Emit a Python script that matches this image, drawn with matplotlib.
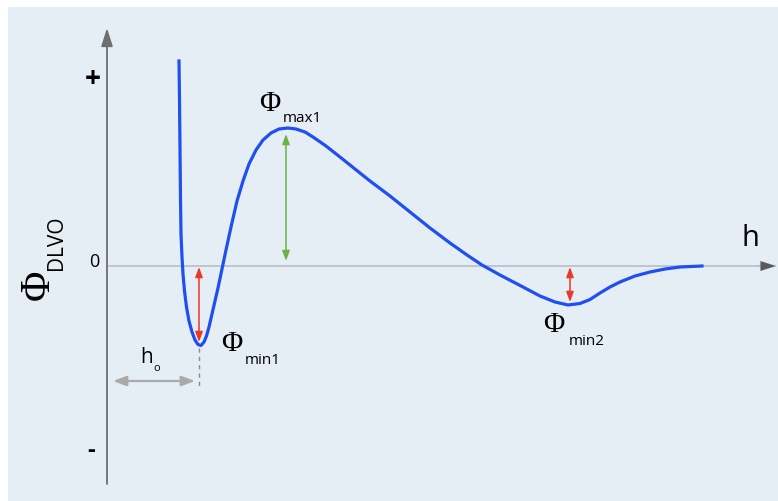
import matplotlib.pyplot as plt
from matplotlib.patches import Rectangle

# DLVO interaction potential vs separation h (arbitrary units)
h = [0.72, 0.725, 0.73, 0.735, 0.74, 0.75, 0.76, 0.775, 0.795, 0.82, 0.85, 0.88,
     0.91, 0.94, 0.97, 0.995, 1.02, 1.05, 1.08, 1.11, 1.15, 1.19, 1.24, 1.30,
     1.36, 1.42, 1.49, 1.56, 1.64, 1.72, 1.81, 1.89, 1.98, 2.06, 2.19, 2.33,
     2.48, 2.63, 2.83, 3.03, 3.23, 3.43, 3.60, 3.75, 3.93, 4.16, 4.33, 4.48,
     4.61, 4.73, 4.83, 4.93, 5.03, 5.13, 5.28, 5.43, 5.58, 5.73, 5.95]
phi = [2.05, 1.67, 1.17, 0.67, 0.32, 0.09, -0.08, -0.25, -0.41, -0.55, -0.66, -0.74,
       -0.785, -0.795, -0.76, -0.70, -0.61, -0.48, -0.35, -0.22, -0.03, 0.16, 0.39, 0.65,
       0.85, 1.02, 1.16, 1.26, 1.33, 1.37, 1.38, 1.37, 1.34, 1.29, 1.20, 1.09,
       0.97, 0.85, 0.70, 0.54, 0.38, 0.23, 0.11, 0.01, -0.09, -0.21, -0.30, -0.36,
       -0.39, -0.375, -0.335, -0.27, -0.21, -0.16, -0.10, -0.06, -0.03, -0.01, 0.00]

h_min1, phi_min1 = 0.92, -0.80
h_max1, phi_max1 = 1.79, 1.38
h_min2, phi_min2 = 4.63, -0.39

BLUE = '#1f4ff0'
RED = '#e8392a'
GREEN = '#6cb04a'
GRAY = '#a9a9a9'
AXIS = '#6e6e6e'

fig = plt.figure(figsize=(7.78, 5.02), dpi=100)
ax = fig.add_axes([0, 0, 1, 1])
ax.set_xlim(-1.07, 6.71)
ax.set_ylim(-2.35, 2.67)
ax.set_axis_off()

# background panel
ax.add_patch(Rectangle((8 / 778, 0), 770 / 778, 494 / 502, transform=ax.transAxes,
                       facecolor='#e6eef5', edgecolor='none', zorder=0))

# axes with arrow heads
ax.plot([0, 6.55], [0, 0], color='#b9bfc5', lw=1.2, zorder=1)
ax.annotate('', xy=(6.69, 0), xytext=(6.50, 0),
            arrowprops=dict(arrowstyle='-|>,head_length=1.1,head_width=0.35',
                            color='#5a5a5a', lw=0.1, shrinkA=0, shrinkB=0))
ax.annotate('', xy=(0, 2.38), xytext=(0, -2.18),
            arrowprops=dict(arrowstyle='-|>,head_length=1.1,head_width=0.35',
                            color=AXIS, lw=1.3, shrinkA=0, shrinkB=0))

# potential curve
ax.plot(h, phi, color=BLUE, lw=2.3, solid_joinstyle='round', zorder=3)

# well depths and barrier height
dbl = '<|-|>,head_length=0.6,head_width=0.22'
ax.annotate('', xy=(h_min1, phi_min1 + 0.04), xytext=(h_min1, -0.01),
            arrowprops=dict(arrowstyle=dbl, color=RED, lw=1.1, shrinkA=0, shrinkB=0))
ax.annotate('', xy=(h_max1, phi_max1 - 0.06), xytext=(h_max1, 0.05),
            arrowprops=dict(arrowstyle=dbl, color=GREEN, lw=1.1, shrinkA=0, shrinkB=0))
ax.annotate('', xy=(h_min2, phi_min2 + 0.03), xytext=(h_min2, -0.01),
            arrowprops=dict(arrowstyle=dbl, color=RED, lw=1.1, shrinkA=0, shrinkB=0))

# h0 marker
ax.plot([h_min1, h_min1], [phi_min1 - 0.02, -1.21], color='#8a8a8a', lw=1,
        ls=(0, (3, 3)), zorder=2)
ax.annotate('', xy=(0.06, -1.15), xytext=(h_min1 - 0.04, -1.15),
            arrowprops=dict(arrowstyle='<|-|>,head_length=0.8,head_width=0.3',
                            color=GRAY, lw=1.6, shrinkA=0, shrinkB=0))

serif = 'Liberation Serif'
sans = 'Open Sans'
ax.text(0.40, -0.91, 'h', fontsize=15, family=sans, ha='center', va='center')
ax.text(0.50, -1.02, 'o', fontsize=8, family=sans, ha='center', va='center')

ax.text(1.63, 1.63, 'Φ', fontsize=21, family=serif, ha='center', va='center')
ax.text(1.95, 1.48, 'max1', fontsize=11, family=sans, ha='center', va='center')
ax.text(1.25, -0.77, 'Φ', fontsize=21, family=serif, ha='center', va='center')
ax.text(1.56, -0.94, 'min1', fontsize=11, family=sans, ha='center', va='center')
ax.text(4.47, -0.58, 'Φ', fontsize=21, family=serif, ha='center', va='center')
ax.text(4.80, -0.75, 'min2', fontsize=11, family=sans, ha='center', va='center')

# axis labels
ax.text(6.43, 0.28, 'h', fontsize=21, family=sans, ha='center', va='center')
ax.text(-0.14, 1.87, '+', fontsize=20, family=sans, weight='bold', ha='center', va='center')
ax.text(-0.16, -1.84, '-', fontsize=17, family=sans, weight='bold', ha='center', va='center')
ax.text(-0.13, 0.05, '0', fontsize=13, family=sans, ha='center', va='center')
ax.text(-0.69, -0.18, 'Φ', fontsize=30, family=serif, rotation=90, ha='center', va='center')
ax.text(-0.50, 0.24, 'DLVO', fontsize=15, family=sans, rotation=90, ha='center', va='center')

fig.savefig('out.png', dpi=100, facecolor='white')
